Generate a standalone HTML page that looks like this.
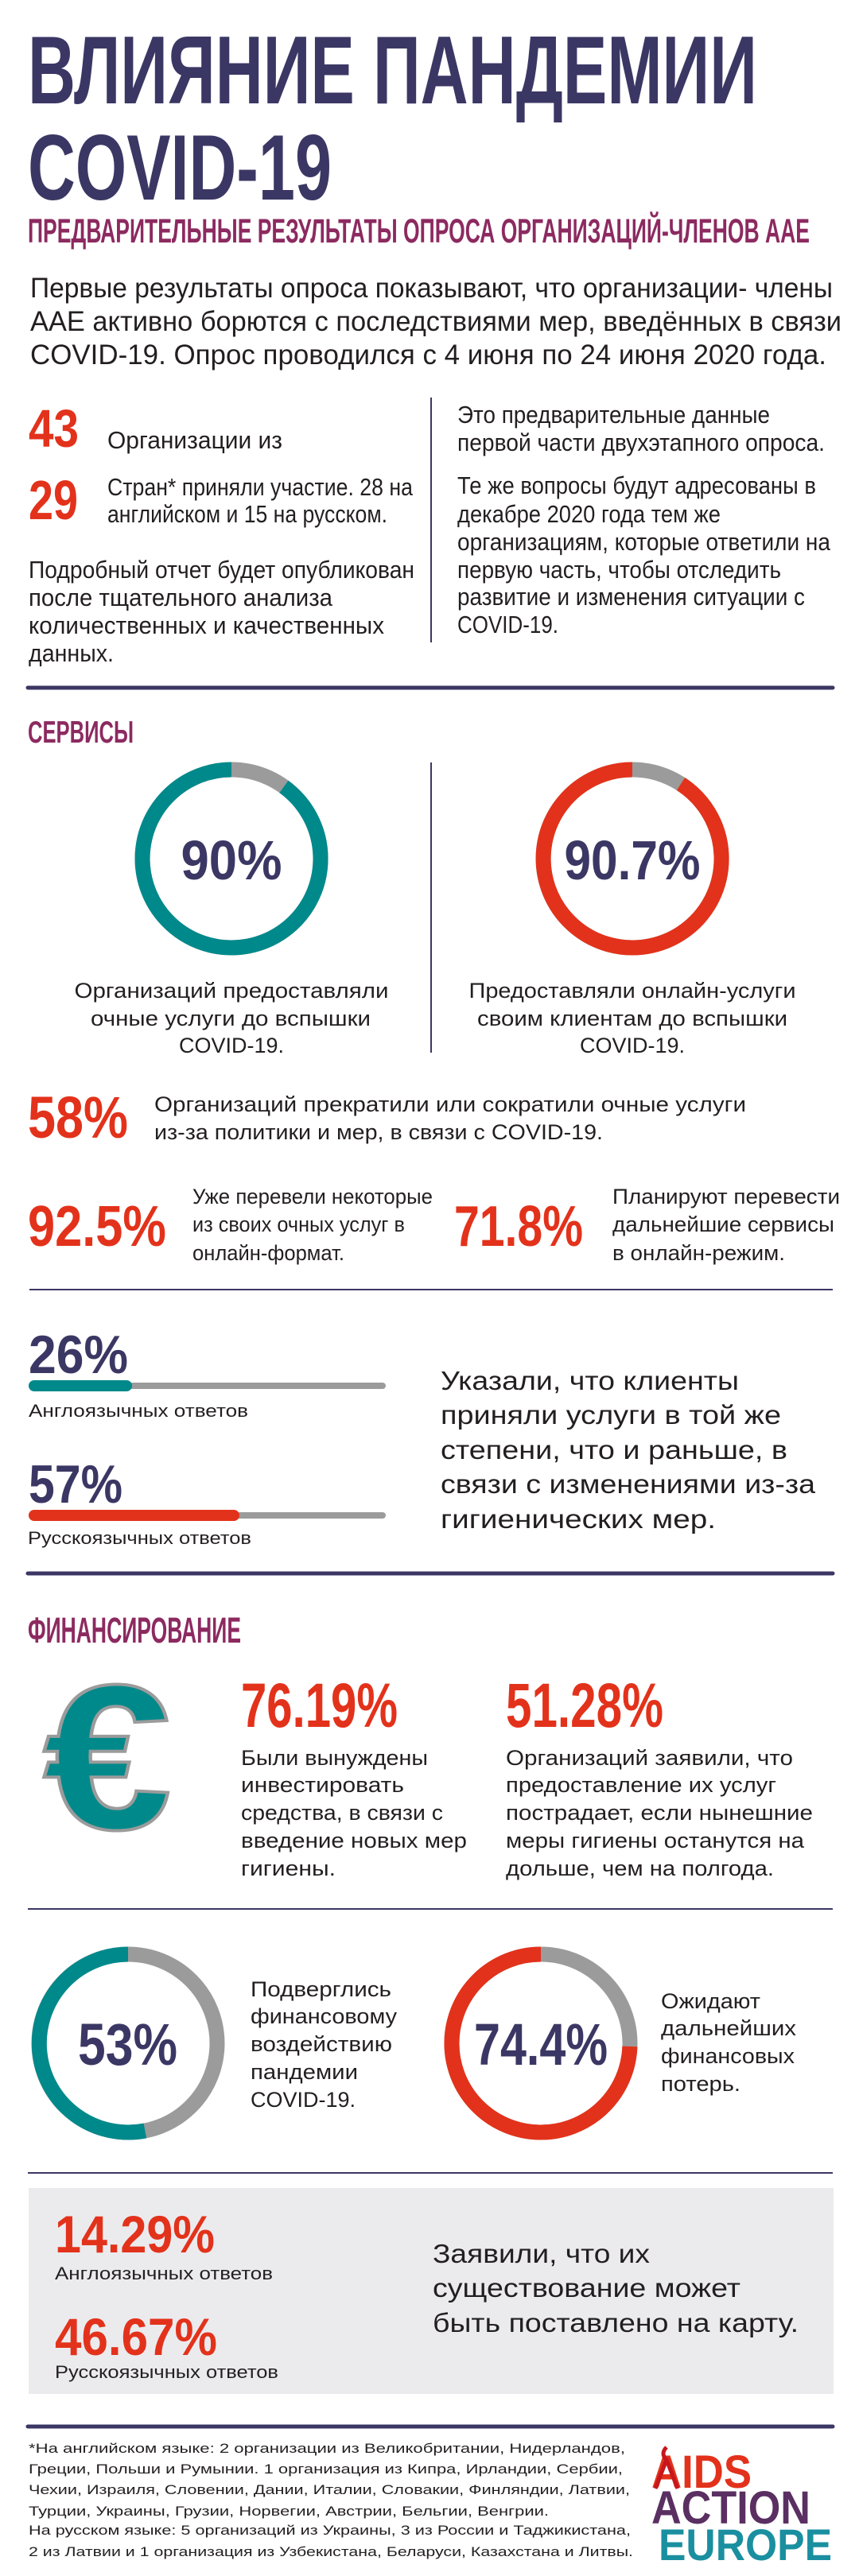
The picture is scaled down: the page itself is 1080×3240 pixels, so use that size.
<!DOCTYPE html>
<html><head><meta charset="utf-8"><style>
html,body{margin:0;padding:0;background:#fff;}
svg{display:block;}
.h{font-family:"Liberation Sans Narrow","Liberation Sans",sans-serif;font-weight:bold;}
.b{font-family:"Liberation Sans","DejaVu Sans",sans-serif;fill:#231f20;}
.n{fill:#3b3764}.r{fill:#e3321b}.p{fill:#8c2a60}
</style></head><body>
<svg width="1080" height="3240" viewBox="0 0 1080 3240" xmlns="http://www.w3.org/2000/svg">
<rect width="1080" height="3240" fill="#fff"/>
<g>
<text class="h n" x="35" y="130" font-size="122" textLength="917" lengthAdjust="spacingAndGlyphs">ВЛИЯНИЕ ПАНДЕМИИ</text>
<text class="h n" x="35" y="251" font-size="117" textLength="382" lengthAdjust="spacingAndGlyphs">COVID-19</text>
<text class="h p" x="35" y="305" font-size="43" textLength="983" lengthAdjust="spacingAndGlyphs">ПРЕДВАРИТЕЛЬНЫЕ РЕЗУЛЬТАТЫ ОПРОСА ОРГАНИЗАЦИЙ-ЧЛЕНОВ ААЕ</text>

<text class="b" font-size="35" x="38" y="374" textLength="1009" lengthAdjust="spacingAndGlyphs">Первые результаты опроса показывают, что организации- члены</text>
<text class="b" font-size="35" x="38" y="416" textLength="1020" lengthAdjust="spacingAndGlyphs">ААЕ активно борются с последствиями мер, введённых в связи</text>
<text class="b" font-size="35" x="38" y="458" textLength="1001" lengthAdjust="spacingAndGlyphs">COVID-19. Опрос проводился с 4 июня по 24 июня 2020 года.</text>

<text class="h r" x="36" y="562" font-size="67" textLength="63" lengthAdjust="spacingAndGlyphs">43</text>
<text class="h r" x="36" y="653" font-size="70" textLength="62" lengthAdjust="spacingAndGlyphs">29</text>
<text class="b" font-size="31" x="135" y="564" textLength="220" lengthAdjust="spacingAndGlyphs">Организации из</text>
<text class="b" font-size="31" x="135" y="623" textLength="384" lengthAdjust="spacingAndGlyphs">Стран* приняли участие. 28 на</text>
<text class="b" font-size="31" x="135" y="657" textLength="352" lengthAdjust="spacingAndGlyphs">английском и 15 на русском.</text>
<text class="b" font-size="31" x="36" y="727" textLength="485" lengthAdjust="spacingAndGlyphs">Подробный отчет будет опубликован</text>
<text class="b" font-size="31" x="36" y="762" textLength="382" lengthAdjust="spacingAndGlyphs">после тщательного анализа</text>
<text class="b" font-size="31" x="36" y="797" textLength="447" lengthAdjust="spacingAndGlyphs">количественных и качественных</text>
<text class="b" font-size="31" x="36" y="832" textLength="107" lengthAdjust="spacingAndGlyphs">данных.</text>
<line x1="542" y1="500" x2="542" y2="808" stroke="#3b3764" stroke-width="2"/>
<text class="b" font-size="31" x="575" y="532" textLength="393" lengthAdjust="spacingAndGlyphs">Это предварительные данные</text>
<text class="b" font-size="31" x="575" y="567" textLength="462" lengthAdjust="spacingAndGlyphs">первой части двухэтапного опроса.</text>
<text class="b" font-size="31" x="575" y="621" textLength="451" lengthAdjust="spacingAndGlyphs">Те же вопросы будут адресованы в</text>
<text class="b" font-size="31" x="575" y="657" textLength="331" lengthAdjust="spacingAndGlyphs">декабре 2020 года тем же</text>
<text class="b" font-size="31" x="575" y="692" textLength="469" lengthAdjust="spacingAndGlyphs">организациям, которые ответили на</text>
<text class="b" font-size="31" x="575" y="727" textLength="407" lengthAdjust="spacingAndGlyphs">первую часть, чтобы отследить</text>
<text class="b" font-size="31" x="575" y="761" textLength="437" lengthAdjust="spacingAndGlyphs">развитие и изменения ситуации с</text>
<text class="b" font-size="31" x="575" y="796" textLength="127" lengthAdjust="spacingAndGlyphs">COVID-19.</text>
<line x1="35" y1="865" x2="1047" y2="865" stroke="#3b3764" stroke-width="5" stroke-linecap="round"/>

<text class="h p" x="35" y="934" font-size="39" textLength="133" lengthAdjust="spacingAndGlyphs">СЕРВИСЫ</text>
<circle cx="291" cy="1080" r="112" fill="none" stroke="#9b9b9b" stroke-width="19"/>
<path d="M356.9 989.4 A112 112 0 1 1 291 968" fill="none" stroke="#00898b" stroke-width="19"/>
<text class="h n" x="291" y="1106" font-size="70" text-anchor="middle" textLength="127" lengthAdjust="spacingAndGlyphs">90%</text>
<circle cx="795" cy="1080" r="112" fill="none" stroke="#9b9b9b" stroke-width="19"/>
<path d="M856 986 A112 112 0 1 1 795 968" fill="none" stroke="#e3321b" stroke-width="19"/>
<text class="h n" x="795" y="1106" font-size="70" text-anchor="middle" textLength="171" lengthAdjust="spacingAndGlyphs">90.7%</text>
<line x1="542" y1="959" x2="542" y2="1324" stroke="#3b3764" stroke-width="2"/>
<text class="b" font-size="27" x="291" y="1255" text-anchor="middle" textLength="395" lengthAdjust="spacingAndGlyphs">Организаций предоставляли</text>
<text class="b" font-size="27" x="290" y="1290" text-anchor="middle" textLength="352" lengthAdjust="spacingAndGlyphs">очные услуги до вспышки</text>
<text class="b" font-size="27" x="291" y="1324" text-anchor="middle" textLength="132" lengthAdjust="spacingAndGlyphs">COVID-19.</text>
<text class="b" font-size="27" x="795" y="1255" text-anchor="middle" textLength="411" lengthAdjust="spacingAndGlyphs">Предоставляли онлайн-услуги</text>
<text class="b" font-size="27" x="795" y="1290" text-anchor="middle" textLength="390" lengthAdjust="spacingAndGlyphs">своим клиентам до вспышки</text>
<text class="b" font-size="27" x="795" y="1324" text-anchor="middle" textLength="132" lengthAdjust="spacingAndGlyphs">COVID-19.</text>

<text class="h r" x="35" y="1431" font-size="74" textLength="126" lengthAdjust="spacingAndGlyphs">58%</text>
<text class="b" font-size="27" x="194" y="1398" textLength="744" lengthAdjust="spacingAndGlyphs">Организаций прекратили или сократили очные услуги</text>
<text class="b" font-size="27" x="194" y="1433" textLength="564" lengthAdjust="spacingAndGlyphs">из-за политики и мер, в связи с COVID-19.</text>

<text class="h r" x="35" y="1567" font-size="72" textLength="174" lengthAdjust="spacingAndGlyphs">92.5%</text>
<text class="b" font-size="27" x="242" y="1514" textLength="302" lengthAdjust="spacingAndGlyphs">Уже перевели некоторые</text>
<text class="b" font-size="27" x="242" y="1549" textLength="267" lengthAdjust="spacingAndGlyphs">из своих очных услуг в</text>
<text class="b" font-size="27" x="242" y="1585" textLength="191" lengthAdjust="spacingAndGlyphs">онлайн-формат.</text>
<text class="h r" x="571" y="1567" font-size="72" textLength="162" lengthAdjust="spacingAndGlyphs">71.8%</text>
<text class="b" font-size="27" x="770" y="1514" textLength="286" lengthAdjust="spacingAndGlyphs">Планируют перевести</text>
<text class="b" font-size="27" x="770" y="1549" textLength="279" lengthAdjust="spacingAndGlyphs">дальнейшие сервисы</text>
<text class="b" font-size="27" x="770" y="1585" textLength="217" lengthAdjust="spacingAndGlyphs">в онлайн-режим.</text>
<line x1="37" y1="1622" x2="1047" y2="1622" stroke="#3b3764" stroke-width="2"/>

<text class="h n" x="36" y="1727" font-size="68" textLength="125" lengthAdjust="spacingAndGlyphs">26%</text>
<line x1="40" y1="1743" x2="481" y2="1743" stroke="#9b9b9b" stroke-width="8" stroke-linecap="round"/>
<line x1="43" y1="1743" x2="159" y2="1743" stroke="#00898b" stroke-width="14" stroke-linecap="round"/>
<text class="b" font-size="22" x="36" y="1782" textLength="276" lengthAdjust="spacingAndGlyphs">Англоязычных ответов</text>
<text class="h n" x="36" y="1890" font-size="68" textLength="118" lengthAdjust="spacingAndGlyphs">57%</text>
<line x1="40" y1="1906" x2="481" y2="1906" stroke="#9b9b9b" stroke-width="8" stroke-linecap="round"/>
<line x1="43" y1="1906" x2="294" y2="1906" stroke="#e3321b" stroke-width="14" stroke-linecap="round"/>
<text class="b" font-size="22" x="35" y="1942" textLength="281" lengthAdjust="spacingAndGlyphs">Русскоязычных ответов</text>
<text class="b" font-size="33" x="554" y="1748" textLength="375" lengthAdjust="spacingAndGlyphs">Указали, что клиенты</text>
<text class="b" font-size="33" x="554" y="1791" textLength="428" lengthAdjust="spacingAndGlyphs">приняли услуги в той же</text>
<text class="b" font-size="33" x="554" y="1835" textLength="436" lengthAdjust="spacingAndGlyphs">степени, что и раньше, в</text>
<text class="b" font-size="33" x="554" y="1878" textLength="471" lengthAdjust="spacingAndGlyphs">связи с изменениями из-за</text>
<text class="b" font-size="33" x="554" y="1922" textLength="346" lengthAdjust="spacingAndGlyphs">гигиенических мер.</text>
<line x1="35" y1="1979" x2="1047" y2="1979" stroke="#3b3764" stroke-width="5" stroke-linecap="round"/>

<text class="h p" x="35" y="2066" font-size="45" textLength="268" lengthAdjust="spacingAndGlyphs">ФИНАНСИРОВАНИЕ</text>
<text x="54" y="2300" font-family="Liberation Sans,sans-serif" font-weight="bold" font-size="260" textLength="162" lengthAdjust="spacingAndGlyphs" fill="#00898b" stroke="#9b9b9b" stroke-width="4">€</text>
<text class="h r" x="303" y="2172" font-size="79" textLength="197" lengthAdjust="spacingAndGlyphs">76.19%</text>
<text class="b" font-size="27" x="303" y="2220" textLength="235" lengthAdjust="spacingAndGlyphs">Были вынуждены</text>
<text class="b" font-size="27" x="303" y="2254" textLength="205" lengthAdjust="spacingAndGlyphs">инвестировать</text>
<text class="b" font-size="27" x="303" y="2289" textLength="254" lengthAdjust="spacingAndGlyphs">средства, в связи с</text>
<text class="b" font-size="27" x="303" y="2324" textLength="284" lengthAdjust="spacingAndGlyphs">введение новых мер</text>
<text class="b" font-size="27" x="303" y="2359" textLength="119" lengthAdjust="spacingAndGlyphs">гигиены.</text>
<text class="h r" x="636" y="2172" font-size="79" textLength="198" lengthAdjust="spacingAndGlyphs">51.28%</text>
<text class="b" font-size="27" x="636" y="2220" textLength="361" lengthAdjust="spacingAndGlyphs">Организаций заявили, что</text>
<text class="b" font-size="27" x="636" y="2254" textLength="340" lengthAdjust="spacingAndGlyphs">предоставление их услуг</text>
<text class="b" font-size="27" x="636" y="2289" textLength="386" lengthAdjust="spacingAndGlyphs">пострадает, если нынешние</text>
<text class="b" font-size="27" x="636" y="2324" textLength="375" lengthAdjust="spacingAndGlyphs">меры гигиены останутся на</text>
<text class="b" font-size="27" x="636" y="2359" textLength="337" lengthAdjust="spacingAndGlyphs">дольше, чем на полгода.</text>
<line x1="35" y1="2401" x2="1047" y2="2401" stroke="#3b3764" stroke-width="2"/>

<circle cx="161" cy="2570" r="112" fill="none" stroke="#9b9b9b" stroke-width="19"/>
<path d="M161 2458 A112 112 0 1 0 182.4 2680" fill="none" stroke="#00898b" stroke-width="19"/>
<text class="h n" x="98" y="2597" font-size="74" textLength="125" lengthAdjust="spacingAndGlyphs">53%</text>
<text class="b" font-size="27" x="315" y="2511" textLength="177" lengthAdjust="spacingAndGlyphs">Подверглись</text>
<text class="b" font-size="27" x="315" y="2545" textLength="184" lengthAdjust="spacingAndGlyphs">финансовому</text>
<text class="b" font-size="27" x="315" y="2580" textLength="178" lengthAdjust="spacingAndGlyphs">воздействию</text>
<text class="b" font-size="27" x="315" y="2615" textLength="135" lengthAdjust="spacingAndGlyphs">пандемии</text>
<text class="b" font-size="27" x="315" y="2650" textLength="132" lengthAdjust="spacingAndGlyphs">COVID-19.</text>
<circle cx="680" cy="2570" r="112" fill="none" stroke="#9b9b9b" stroke-width="19"/>
<path d="M680 2458 A112 112 0 1 0 791.9 2573.9" fill="none" stroke="#e3321b" stroke-width="19"/>
<text class="h n" x="596" y="2597" font-size="74" textLength="168" lengthAdjust="spacingAndGlyphs">74.4%</text>
<text class="b" font-size="27" x="831" y="2526" textLength="125" lengthAdjust="spacingAndGlyphs">Ожидают</text>
<text class="b" font-size="27" x="831" y="2560" textLength="170" lengthAdjust="spacingAndGlyphs">дальнейших</text>
<text class="b" font-size="27" x="831" y="2595" textLength="168" lengthAdjust="spacingAndGlyphs">финансовых</text>
<text class="b" font-size="27" x="831" y="2630" textLength="100" lengthAdjust="spacingAndGlyphs">потерь.</text>
<line x1="35" y1="2733" x2="1047" y2="2733" stroke="#3b3764" stroke-width="2"/>

<rect x="36" y="2752" width="1012" height="259" fill="#ebebee"/>
<text class="h r" x="69" y="2833" font-size="66" textLength="201" lengthAdjust="spacingAndGlyphs">14.29%</text>
<text class="b" font-size="22" x="69" y="2867" textLength="274" lengthAdjust="spacingAndGlyphs">Англоязычных ответов</text>
<text class="h r" x="69" y="2962" font-size="66" textLength="204" lengthAdjust="spacingAndGlyphs">46.67%</text>
<text class="b" font-size="22" x="69" y="2991" textLength="281" lengthAdjust="spacingAndGlyphs">Русскоязычных ответов</text>
<text class="b" font-size="33" x="544" y="2846" textLength="273" lengthAdjust="spacingAndGlyphs">Заявили, что их</text>
<text class="b" font-size="33" x="544" y="2889" textLength="387" lengthAdjust="spacingAndGlyphs">существование может</text>
<text class="b" font-size="33" x="544" y="2933" textLength="460" lengthAdjust="spacingAndGlyphs">быть поставлено на карту.</text>
<line x1="35" y1="3052" x2="1047" y2="3052" stroke="#3b3764" stroke-width="5" stroke-linecap="round"/>

<text class="b" font-size="17" x="36" y="3085" textLength="750" lengthAdjust="spacingAndGlyphs">*На английском языке: 2 организации из Великобритании, Нидерландов,</text>
<text class="b" font-size="17" x="36" y="3111" textLength="747" lengthAdjust="spacingAndGlyphs">Греции, Польши и Румынии. 1 организация из Кипра, Ирландии, Сербии,</text>
<text class="b" font-size="17" x="36" y="3137" textLength="756" lengthAdjust="spacingAndGlyphs">Чехии, Израиля, Словении, Дании, Италии, Словакии, Финляндии, Латвии,</text>
<text class="b" font-size="17" x="36" y="3164" textLength="654" lengthAdjust="spacingAndGlyphs">Турции, Украины, Грузии, Норвегии, Австрии, Бельгии, Венгрии.</text>
<text class="b" font-size="17" x="36" y="3188" textLength="757" lengthAdjust="spacingAndGlyphs">На русском языке: 5 организаций из Украины, 3 из России и Таджикистана,</text>
<text class="b" font-size="17" x="36" y="3215" textLength="760" lengthAdjust="spacingAndGlyphs">2 из Латвии и 1 организация из Узбекистана, Беларуси, Казахстана и Литвы.</text>

<text x="819" y="3129" font-family="Liberation Sans,sans-serif" font-weight="bold" font-size="58" fill="#e3321b" textLength="126" lengthAdjust="spacingAndGlyphs">AIDS</text>
<text x="819" y="3174" font-family="Liberation Sans,sans-serif" font-weight="bold" font-size="58" fill="#5a2f62" textLength="200" lengthAdjust="spacingAndGlyphs">ACTION</text>
<text x="828" y="3220" font-family="Liberation Sans,sans-serif" font-weight="bold" font-size="56" fill="#1a8fa0" textLength="218" lengthAdjust="spacingAndGlyphs">EUROPE</text>
<path d="M838 3078 q-8 8 0 16 l-14 36 M838 3094 l14 36" fill="none" stroke="#c8161d" stroke-width="5"/>
</g>
</svg>
</body></html>
